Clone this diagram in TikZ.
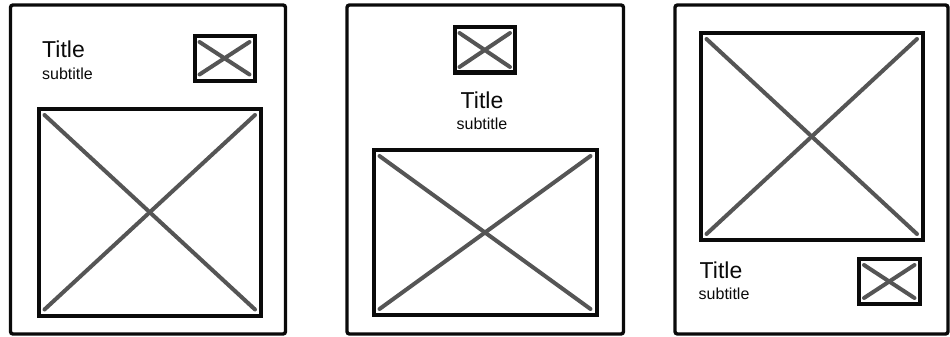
\documentclass[tikz,border=0pt]{standalone}
\usepackage{fontspec}
\setmainfont{Liberation Sans}
\definecolor{ink}{RGB}{10,10,10}
\definecolor{slate}{RGB}{85,85,85}

\begin{document}
\begin{tikzpicture}[x=1pt,y=-1pt,
 every node/.style={inner sep=0pt,text=ink},
 card/.style={draw=ink,line width=3.4pt,rounded corners=2.5pt},
 frame/.style={draw=ink,line width=4pt},
 cross/.style={slate,line width=4pt,line cap=round},
 heading/.style={font=\fontsize{23}{27}\selectfont},
 caption/.style={font=\fontsize{16}{19}\selectfont}]
 \path[use as bounding box] (0,0) rectangle (950,337);
 % left card: title beside the thumbnail, picture below
 \draw[card] (10.5,5) rectangle (285.5,334);
 \node[heading,anchor=base west] (titleA) at (42,58) {Title};
 \node[caption,anchor=base west] (subA) at (42,80) {subtitle};
 \draw[frame] (194.5,36) rectangle (254.5,80.5);
 \draw[cross] (199.5,42) -- (249.5,74.5);
 \draw[cross] (199.5,74.5) -- (249.5,42);
 \draw[frame] (38.5,109) rectangle (261,315.5);
 \draw[cross] (44.5,115) -- (255,309.5);
 \draw[cross] (44.5,309.5) -- (255,115);
 % middle card: centred thumbnail and text
 \draw[card] (347,5) rectangle (623.5,334);
 \draw[frame] (454.5,27.5) rectangle (515,72.5);
 \draw[cross] (459.5,33) -- (510,67);
 \draw[cross] (459.5,67) -- (510,33);
 \node[heading,anchor=base] (titleB) at (482,108) {Title};
 \node[caption,anchor=base] (subB) at (482,129) {subtitle};
 \draw[frame] (373.5,150) rectangle (596.5,315);
 \draw[cross] (379.5,156) -- (590.5,309);
 \draw[cross] (379.5,309) -- (590.5,156);
 % right card: picture first, text and thumbnail underneath
 \draw[card] (675,5) rectangle (948,334);
 \draw[frame] (700.5,33) rectangle (923,240);
 \draw[cross] (706.5,39) -- (917,234);
 \draw[cross] (706.5,234) -- (917,39);
 \node[heading,anchor=base west] (titleC) at (699.5,278) {Title};
 \node[caption,anchor=base west] (subC) at (698.5,299) {subtitle};
 \draw[frame] (859,259) rectangle (919.5,304);
 \draw[cross] (864,265) -- (914.5,298);
 \draw[cross] (864,298) -- (914.5,265);
\end{tikzpicture}
\end{document}
